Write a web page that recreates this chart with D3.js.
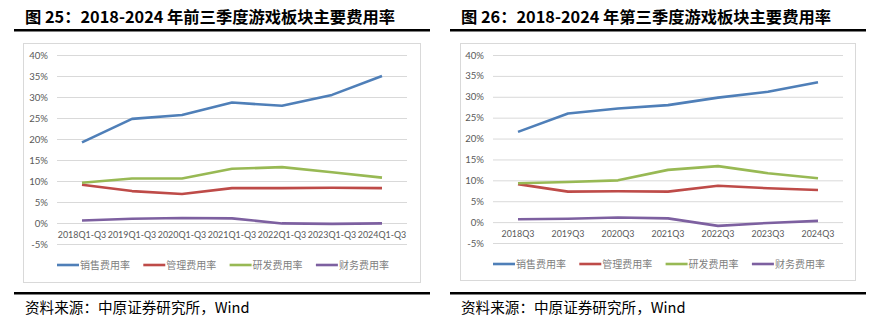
<!DOCTYPE html>
<html>
<head>
<meta charset="utf-8">
<script src="https://cdn.jsdelivr.net/npm/d3@7"></script>
<style>
  body { margin: 0; background: #fff; }
  svg { display: block; }
  .ttl { font-family: "Noto Sans CJK SC", sans-serif; font-weight: bold; font-size: 16.3px; fill: #000; }
  .src { font-family: "Noto Sans CJK SC", sans-serif; font-size: 14.6px; fill: #000; }
  .tick text { font-family: Lato, "Noto Sans CJK SC", sans-serif; font-size: 9.6px; fill: #595959; }
  .xax .tick text { font-size: 8.9px; }
  .leg text { font-family: "Noto Sans CJK SC", sans-serif; font-size: 10px; fill: #808080; }
</style>
</head>
<body>
<div id="chart"></div>
<script>
// expense ratios of the gaming sector, in %
const catsYTD = ['2018Q1-Q3', '2019Q1-Q3', '2020Q1-Q3', '2021Q1-Q3', '2022Q1-Q3', '2023Q1-Q3', '2024Q1-Q3'];
const catsQ3 = ['2018Q3', '2019Q3', '2020Q3', '2021Q3', '2022Q3', '2023Q3', '2024Q3'];
const seriesNames = ['销售费用率', '管理费用率', '研发费用率', '财务费用率'];
const seriesColors = ['#4f7fb8', '#be4b48', '#98b954', '#7d60a0'];
const yTicks = [-5, 0, 5, 10, 15, 20, 25, 30, 35, 40];

const salesYTD = [19.2, 24.8, 25.7, 28.7, 27.9, 30.5, 35.0];
const adminYTD = [9.1, 7.6, 6.9, 8.3, 8.3, 8.4, 8.3];
const rdYTD = [9.6, 10.6, 10.6, 12.9, 13.3, 12.1, 10.8];
const finYTD = [0.6, 1.0, 1.2, 1.1, -0.1, -0.2, -0.1];

const salesQ3 = [21.6, 26.0, 27.2, 28.0, 29.8, 31.2, 33.5];
const adminQ3 = [9.1, 7.3, 7.4, 7.3, 8.7, 8.1, 7.7];
const rdQ3 = [9.3, 9.6, 10.0, 12.5, 13.4, 11.7, 10.5];
const finQ3 = [0.7, 0.8, 1.1, 0.9, -0.9, -0.2, 0.3];

const svg = d3.select('#chart').append('svg')
  .attr('width', 894)
  .attr('height', 325);

function drawPanel(g, opts) {
  // heading and rules
  g.append('text').attr('class', 'ttl')
    .attr('x', opts.titleX).attr('y', 23)
    .text(opts.title);
  g.append('rect')
    .attr('x', opts.ruleX0).attr('y', 29)
    .attr('width', opts.ruleX1 - opts.ruleX0).attr('height', 2.5)
    .attr('fill', '#000');
  g.append('rect')
    .attr('x', opts.ruleX0).attr('y', 292)
    .attr('width', opts.ruleX1 - opts.ruleX0).attr('height', 2.5)
    .attr('fill', '#000');
  g.append('text').attr('class', 'src')
    .attr('x', opts.titleX).attr('y', 313)
    .text('资料来源：中原证券研究所，Wind');

  // chart frame
  g.append('rect')
    .attr('x', opts.frame[0] + 0.5).attr('y', opts.frame[1] + 0.5)
    .attr('width', opts.frame[2] - opts.frame[0]).attr('height', opts.frame[3] - opts.frame[1])
    .attr('fill', 'none').attr('stroke', '#d9d9d9');

  const x = d3.scaleBand().domain(opts.cats).range([opts.plotX0, opts.plotX1]);
  const y = d3.scaleLinear().domain([-5, 40]).range([opts.plotY1, opts.plotY0]);

  // gridlines + y labels
  const yAxis = g.append('g')
    .attr('transform', `translate(${opts.plotX0},0)`)
    .call(d3.axisLeft(y).tickValues(yTicks)
      .tickSize(-(opts.plotX1 - opts.plotX0)).tickPadding(9)
      .tickFormat(d => d + '%'));
  yAxis.select('.domain').remove();
  yAxis.selectAll('.tick line').attr('stroke', '#d9d9d9');

  // category labels sit just under the 0% line
  const xAxis = g.append('g').attr('class', 'xax')
    .attr('transform', `translate(0,${y(0)})`)
    .call(d3.axisBottom(x).tickSize(0).tickPadding(9));
  xAxis.select('.domain').remove();

  const line = d3.line()
    .x((d, i) => x(opts.cats[i]) + x.bandwidth() / 2)
    .y(d => y(d));

  g.append('g').selectAll('path')
    .data(opts.series)
    .enter().append('path')
      .attr('d', d => line(d))
      .attr('fill', 'none')
      .attr('stroke', (d, i) => seriesColors[i])
      .attr('stroke-width', 2.6)
      .attr('stroke-linejoin', 'round');

  // legend
  const leg = g.append('g').attr('class', 'leg')
    .selectAll('g')
    .data(seriesNames)
    .enter().append('g')
      .attr('transform', (d, i) => `translate(${opts.legX + i * 86.3},${opts.legY})`);
  leg.append('line')
    .attr('x1', 0).attr('x2', 22)
    .attr('stroke', (d, i) => seriesColors[i])
    .attr('stroke-width', 2.6);
  leg.append('text')
    .attr('x', 23).attr('dy', '0.35em')
    .text(d => d);
}

drawPanel(svg.append('g'), {
  title: '图 25：2018-2024 年前三季度游戏板块主要费用率',
  titleX: 25, ruleX0: 14, ruleX1: 430,
  frame: [23, 43, 420, 282],
  plotX0: 57, plotX1: 407, plotY0: 55, plotY1: 244,
  cats: catsYTD,
  series: [salesYTD, adminYTD, rdYTD, finYTD],
  legX: 57, legY: 265,
});

drawPanel(svg.append('g'), {
  title: '图 26：2018-2024 年第三季度游戏板块主要费用率',
  titleX: 461, ruleX0: 450, ruleX1: 866,
  frame: [460, 43, 855, 280],
  plotX0: 493, plotX1: 843, plotY0: 55, plotY1: 243,
  cats: catsQ3,
  series: [salesQ3, adminQ3, rdQ3, finQ3],
  legX: 493, legY: 264,
});
</script>
</body>
</html>
